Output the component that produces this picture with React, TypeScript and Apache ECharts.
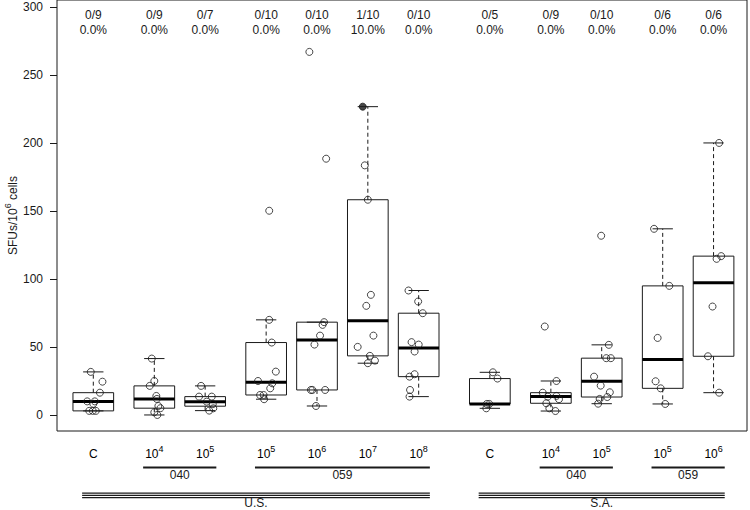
import React, { useEffect, useRef } from 'react';
import * as echarts from 'echarts';

// ---- data ----
const boxPositions = [1, 2.2, 3.2, 4.4, 5.4, 6.4, 7.4, 8.8, 10, 11, 12.2, 13.2];
const doseBase = ['C', '10', '10', '10', '10', '10', '10', 'C', '10', '10', '10', '10'];
const doseExponent = ['', '4', '5', '5', '6', '7', '8', '', '4', '5', '5', '6'];
const vaccineNames = ['040', '059', '040', '059'];
const vaccineFirstBox = [1, 3, 8, 10];
const vaccineLastBox = [2, 6, 9, 11];
const siteNames = ['U.S.', 'S.A.'];
const siteFirstBox = [0, 7];
const siteLastBox = [6, 11];
const yTicks = [0, 50, 100, 150, 200, 250, 300];

const usControl = [31.7, 24.5, 16.4, 10, 8.2, 10, 3, 3, 3];
const us040e4 = [41.5, 25, 21.4, 14, 11.8, 6.6, 5, 2, 0];
const us040e5 = [21.4, 13.5, 13.5, 9.8, 8, 4.9, 3.2];
const us059e5 = [150.3, 70, 53.3, 31.9, 25, 23.3, 19.6, 14.7, 14.7, 11.6];
const us059e6 = [267.2, 188.6, 68.3, 66.3, 58.4, 51.8, 18.4, 18.4, 18.4, 6.6];
const us059e7 = [226.9, 183.7, 158.4, 88.4, 80.3, 58.4, 50.1, 43.5, 40, 38.1];
const us059e8 = [91.6, 83.5, 74.9, 53.6, 51.8, 46.7, 30, 28.2, 18.4, 13.5];
const saControl = [31.4, 26.8, 8.1, 8.1, 4.9];
const sa040e4 = [65.1, 25, 16.4, 14, 13.5, 11.6, 8.6, 4.9, 2.9];
const sa040e5 = [131.9, 51.6, 41.8, 41.8, 28.2, 21.6, 16.7, 13.2, 11.8, 8.3];
const sa059e5 = [137, 95, 56.7, 24.8, 19.6, 8.1];
const sa059e6 = [200.2, 116.9, 114.9, 79.8, 43.2, 16.4];

const sfuValues = [usControl, us040e4, us040e5, us059e5, us059e6, us059e7, us059e8,
  saControl, sa040e4, sa040e5, sa059e5, sa059e6];

// horizontal jitter of each point (axis units)
const jitterOffsets = [
  [-0.05, 0.18, 0.13, -0.12, 0, 0.03, -0.08, -0.01, 0.05],
  [-0.05, 0, -0.09, 0.04, 0.05, 0.08, 0.12, 0, 0.06],
  [-0.08, -0.12, 0.13, 0.03, 0.15, 0.16, 0.08],
  [0.06, 0.06, 0.11, 0.19, -0.16, 0.12, 0.08, -0.12, -0.05, -0.04],
  [-0.15, 0.18, 0.14, 0.11, 0.06, -0.05, -0.12, -0.09, 0.16, -0.02],
  [-0.1, -0.06, 0, 0.06, -0.03, 0.11, -0.2, 0.04, 0.14, 0],
  [-0.2, -0.01, 0.08, -0.14, 0, -0.08, -0.08, -0.18, -0.17, -0.18],
  [0.06, 0.15, -0.06, -0.01, -0.07],
  [-0.12, 0.11, -0.16, 0.11, -0.06, 0.16, -0.09, -0.03, 0.09],
  [-0.01, 0.14, 0.09, 0.18, -0.15, -0.02, 0.16, 0.11, -0.04, -0.07],
  [-0.17, 0.13, -0.1, -0.14, -0.04, 0.05],
  [0.11, 0.15, 0.06, -0.02, -0.11, 0.11],
];

// indices of positive responders within each group
const positiveIndices = [[], [], [], [], [], [0], [], [], [], [], [], []];

// ---- helpers ----
function fivenum(arr: number[]) {
  const s = [...arr].sort((a, b) => a - b);
  const n = s.length;
  const n4 = Math.floor((n + 3) / 2) / 2;
  const d = [1, n4, (n + 1) / 2, n + 1 - n4, n];
  return d.map((v) => 0.5 * (s[Math.floor(v) - 1] + s[Math.ceil(v) - 1]));
}

function boxStats(arr: number[]) {
  const [, q1, med, q3] = fivenum(arr);
  const iqr = q3 - q1;
  const lo = Math.min(...arr.filter((v) => v >= q1 - 1.5 * iqr));
  const hi = Math.max(...arr.filter((v) => v <= q3 + 1.5 * iqr));
  return { q1, med, q3, lo, hi };
}

const FONT = '"Liberation Sans", Arial, Helvetica, sans-serif';
const INK = '#1a1a1a';

export default function App() {
  const ref = useRef<HTMLDivElement>(null);
  useEffect(() => {
    if (!ref.current) return;
    const chart = echarts.init(ref.current, null, { renderer: 'svg' });
    const stats = sfuValues.map(boxStats);
    const boxHalf = 0.4;
    const capHalf = 0.2;
    const lineExt = 0.22;

    const pointData: any[] = [];
    sfuValues.forEach((vals, i) => {
      vals.forEach((v, j) => {
        const pos = positiveIndices[i].includes(j);
        pointData.push({
          value: [boxPositions[i] + jitterOffsets[i][j], v],
          itemStyle: { color: pos ? INK : 'rgba(0,0,0,0)', borderColor: INK, borderWidth: 1 },
        });
      });
    });

    const supRich = {
      b: { fontSize: 12, fontFamily: FONT, color: INK, lineHeight: 14, verticalAlign: 'bottom' },
      s: { fontSize: 9, fontFamily: FONT, color: INK, lineHeight: 9, verticalAlign: 'bottom', padding: [0, 0, 7, 0] },
    };

    const option: any = {
      animation: false,
      backgroundColor: '#fff',
      grid: {
        left: 57, right: 3, top: 0, bottom: 79, show: true,
        borderColor: INK, borderWidth: 1, backgroundColor: 'transparent',
        outerBoundsMode: 'none',
      },
      xAxis: { type: 'value', min: 0.286, max: 13.858, show: false },
      yAxis: {
        type: 'value', min: -11.8, max: 305.4,
        axisLine: { show: false },
        splitLine: { show: false },
        axisTick: { show: true, length: 7, customValues: yTicks, lineStyle: { color: INK, width: 1 } },
        axisLabel: { customValues: yTicks, margin: 14, fontSize: 12, color: INK, fontFamily: FONT },
        name: '{b|SFUs/10}{s|6}{b| cells}',
        nameLocation: 'middle',
        nameRotate: 90,
        nameGap: 38,
        nameMoveOverlap: false,
        nameTextStyle: { rich: supRich },
      },
      series: [
        {
          type: 'custom',
          clip: false,
          data: boxPositions.map((p, i) => [p, stats[i].med, i]),
          encode: { x: 0, y: 1 },
          renderItem: (params: any, api: any) => {
            const i = api.value(2);
            const s = stats[i];
            const pos = boxPositions[i];
            const xl = api.coord([pos - boxHalf, 0])[0];
            const xr = api.coord([pos + boxHalf, 0])[0];
            const xc = api.coord([pos, 0])[0];
            const cl = api.coord([pos - capHalf, 0])[0];
            const cr = api.coord([pos + capHalf, 0])[0];
            const y = (v: number) => api.coord([pos, v])[1];
            const yq1 = y(s.q1), yq3 = y(s.q3), ymed = y(s.med), ylo = y(s.lo), yhi = y(s.hi);
            const thin = { stroke: INK, lineWidth: 1 };
            return {
              type: 'group',
              children: [
                { type: 'line', shape: { x1: xc, y1: yq3, x2: xc, y2: yhi }, style: { ...thin, lineDash: [4, 3] } },
                { type: 'line', shape: { x1: xc, y1: yq1, x2: xc, y2: ylo }, style: { ...thin, lineDash: [4, 3] } },
                { type: 'line', shape: { x1: cl, y1: yhi, x2: cr, y2: yhi }, style: thin },
                { type: 'line', shape: { x1: cl, y1: ylo, x2: cr, y2: ylo }, style: thin },
                { type: 'rect', shape: { x: xl, y: yq3, width: xr - xl, height: yq1 - yq3 }, style: { fill: 'none', ...thin } },
                { type: 'line', shape: { x1: xl, y1: ymed, x2: xr, y2: ymed }, style: { stroke: '#000', lineWidth: 3 } },
              ],
            };
          },
          z: 2,
        },
        {
          type: 'scatter',
          symbol: 'circle',
          symbolSize: 7,
          data: pointData,
          z: 3,
        },
        {
          // per-group annotations: responders on top, dose below
          type: 'custom',
          clip: false,
          data: boxPositions.map((p, i) => [p, 0, i]),
          encode: { x: 0, y: 1 },
          renderItem: (params: any, api: any) => {
            const i = api.value(2);
            const cs = params.coordSys;
            const xc = api.coord([boxPositions[i], 0])[0];
            const n = sfuValues[i].length;
            const k = positiveIndices[i].length;
            const pct = ((100 * k) / n).toFixed(1);
            const bottom = cs.y + cs.height;
            const dose = doseExponent[i]
              ? `{b|${doseBase[i]}}{s|${doseExponent[i]}}`
              : `{b|${doseBase[i]}}`;
            return {
              type: 'group',
              children: [
                {
                  type: 'text',
                  x: xc, y: cs.y + 7,
                  style: {
                    text: `${k}/${n}\n${pct}%`, fill: INK, fontSize: 12, fontFamily: FONT,
                    lineHeight: 15, align: 'center', verticalAlign: 'top',
                  },
                },
                {
                  type: 'text',
                  x: xc, y: bottom + 22,
                  style: { text: dose, rich: supRich, align: 'center', verticalAlign: 'middle' },
                },
              ],
            };
          },
          z: 4,
        },
        {
          // vaccine group lines
          type: 'custom',
          clip: false,
          data: vaccineNames.map((nm, g) => [boxPositions[vaccineFirstBox[g]], 0, g]),
          encode: { x: 0, y: 1 },
          renderItem: (params: any, api: any) => {
            const g = api.value(2);
            const cs = params.coordSys;
            const bottom = cs.y + cs.height;
            const x1 = api.coord([boxPositions[vaccineFirstBox[g]] - lineExt, 0])[0];
            const x2 = api.coord([boxPositions[vaccineLastBox[g]] + lineExt, 0])[0];
            return {
              type: 'group',
              children: [
                { type: 'line', shape: { x1, y1: bottom + 36.5, x2, y2: bottom + 36.5 }, style: { stroke: INK, lineWidth: 2 } },
                {
                  type: 'text', x: (x1 + x2) / 2, y: bottom + 44,
                  style: { text: vaccineNames[g], fill: INK, fontSize: 12, fontFamily: FONT, align: 'center', verticalAlign: 'middle' },
                },
              ],
            };
          },
          z: 4,
        },
        {
          // site triple lines
          type: 'custom',
          clip: false,
          data: siteNames.map((nm, g) => [boxPositions[siteFirstBox[g]], 0, g]),
          encode: { x: 0, y: 1 },
          renderItem: (params: any, api: any) => {
            const g = api.value(2);
            const cs = params.coordSys;
            const bottom = cs.y + cs.height;
            const x1 = api.coord([boxPositions[siteFirstBox[g]] - lineExt, 0])[0];
            const x2 = api.coord([boxPositions[siteLastBox[g]] + lineExt, 0])[0];
            const offs = [62.2, 64.4, 66.6];
            return {
              type: 'group',
              children: [
                ...offs.map((o) => ({
                  type: 'line', shape: { x1, y1: bottom + o, x2, y2: bottom + o },
                  style: { stroke: INK, lineWidth: 1.3 },
                })),
                {
                  type: 'text', x: (x1 + x2) / 2, y: bottom + 72,
                  style: {
                    text: siteNames[g], fill: INK, fontSize: 12, lineHeight: 12, fontFamily: FONT,
                    align: 'center', verticalAlign: 'middle',
                  },
                },
              ],
            };
          },
          z: 4,
        },
      ],
    };
    chart.setOption(option);
    return () => chart.dispose();
  }, []);

  return (
    <div
      ref={ref}
      style={{ position: 'fixed', left: 0, top: 0, width: 750, height: 510, background: '#fff' }}
    />
  );
}
